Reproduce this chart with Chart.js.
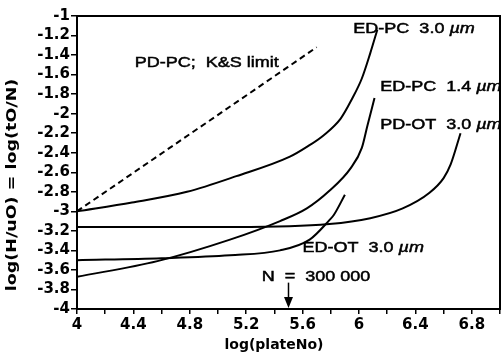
<!DOCTYPE html>
<html>
<head>
<meta charset="utf-8">
<script src="https://cdn.jsdelivr.net/npm/chart.js@4.4.1/dist/chart.umd.min.js"></script>
<style>
  body { margin: 0; background: #fff; }
  canvas { display: block; }
</style>
</head>
<body>
<canvas id="chart" width="502" height="355"></canvas>
<script>
// curves, x = log(plateNo), y = log(H/uO)
const pdpcX = [4, 4.85, 5.7];
const pdpcY = [-3.0, -2.16, -1.32];

const edpc30X = [4, 4.39, 4.78, 5.13, 5.51, 5.63, 5.75, 5.87, 5.95, 6.02, 6.08, 6.13];
const edpc30Y = [-3.0, -2.91, -2.80, -2.64, -2.44, -2.34, -2.22, -2.05, -1.85, -1.64, -1.38, -1.14];

const edpc14X = [4, 4.57, 5.085, 5.44, 5.63, 5.79, 5.94, 6.02, 6.06, 6.11];
const edpc14Y = [-3.67, -3.51, -3.29, -3.10, -2.97, -2.79, -2.56, -2.35, -2.12, -1.84];

const pdotX = [4, 5.13, 5.79, 6.08, 6.31, 6.50, 6.60, 6.65, 6.72];
const pdotY = [-3.16, -3.16, -3.13, -3.07, -2.97, -2.81, -2.66, -2.52, -2.20];

const edotX = [4, 4.6, 5.085, 5.44, 5.65, 5.79, 5.82, 5.90];
const edotY = [-3.50, -3.48, -3.45, -3.40, -3.29, -3.09, -3.04, -2.83];

const xTickLabels = ["4", "4.4", "4.8", "5.2", "5.6", "6", "6.4", "6.8"];
const yTickLabels = ["-4", "-3.8", "-3.6", "-3.4", "-3.2", "-3", "-2.8", "-2.6", "-2.4", "-2.2",
  "-2", "-1.8", "-1.6", "-1.4", "-1.2", "-1"];

const arrowAt = 5.5; // N = 300 000

function line(xs, ys, dash) {
  return {
    data: xs.map((x, i) => ({ x: x, y: ys[i] })),
    showLine: true,
    borderColor: "#000",
    borderWidth: 2,
    borderDash: dash || [],
    pointRadius: 0,
    cubicInterpolationMode: "monotone",
  };
}

// text beside the curves, placed in data units
const notes = [
  { text: "PD-PC;  K&S limit", unit: "", x: 4.41, y: -1.48 },
  { text: "ED-PC  3.0 ", unit: "µm", x: 5.96, y: -1.13 },
  { text: "ED-PC  1.4 ", unit: "µm", x: 6.15, y: -1.73 },
  { text: "PD-OT  3.0 ", unit: "µm", x: 6.15, y: -2.11 },
  { text: "ED-OT  3.0 ", unit: "µm", x: 5.60, y: -3.37 },
  { text: "N  =  300 000", unit: "", x: 5.31, y: -3.67 },
];

function wideText(ctx, s, px, py, sx) {
  ctx.save();
  ctx.translate(px, py);
  ctx.scale(sx, 1);
  ctx.strokeText(s, 0, 0);
  ctx.fillText(s, 0, 0);
  ctx.restore();
  return ctx.measureText(s).width * sx;
}

const extras = {
  id: "extras",
  afterDraw(chart) {
    const ctx = chart.ctx;
    const a = chart.chartArea;
    const x = chart.scales.x, y = chart.scales.y;
    ctx.save();
    ctx.strokeStyle = "#000";
    ctx.fillStyle = "#000";
    ctx.lineWidth = 2;
    ctx.strokeRect(a.left, a.top, a.right - a.left, a.bottom - a.top);

    ctx.textBaseline = "middle";
    ctx.textAlign = "left";
    ctx.lineWidth = 0.5;
    notes.forEach(n => {
      let px = x.getPixelForValue(n.x);
      const py = y.getPixelForValue(n.y);
      ctx.font = "15px 'Liberation Sans'";
      px += wideText(ctx, n.text, px, py, 1.2);
      if (n.unit) {
        ctx.font = "italic 15px 'Liberation Sans'";
        wideText(ctx, n.unit, px, py, 1.2);
      }
    });

    // arrow for N = 300 000
    const ax = x.getPixelForValue(arrowAt);
    const top = y.getPixelForValue(-3.73);
    ctx.lineWidth = 1.5;
    ctx.beginPath();
    ctx.moveTo(ax, top);
    ctx.lineTo(ax, a.bottom - 8);
    ctx.stroke();
    ctx.beginPath();
    ctx.moveTo(ax - 4.5, a.bottom - 12);
    ctx.lineTo(ax + 4.5, a.bottom - 12);
    ctx.lineTo(ax, a.bottom - 1);
    ctx.closePath();
    ctx.fill();

    // axis titles
    ctx.font = "bold 14px 'DejaVu Sans'";
    ctx.textAlign = "center";
    ctx.fillText("log(plateNo)", 274, 345);
    ctx.save();
    ctx.translate(12, 185);
    ctx.rotate(-Math.PI / 2);
    ctx.scale(1.25, 1);
    ctx.fillText("log(H/uO) = log(tO/N)", 0, 0);
    ctx.restore();
    ctx.restore();
  },
};

const tickFont = { family: "DejaVu Sans", size: 15, weight: "bold" };

new Chart(document.getElementById("chart").getContext("2d"), {
  type: "scatter",
  data: {
    datasets: [
      line(pdpcX, pdpcY, [6, 4]),
      line(edpc30X, edpc30Y),
      line(edpc14X, edpc14Y),
      line(pdotX, pdotY),
      line(edotX, edotY),
    ],
  },
  options: {
    responsive: false,
    animation: false,
    devicePixelRatio: 1,
    layout: { padding: { top: 16, right: 2, left: 0, bottom: 0 } },
    plugins: { legend: { display: false }, tooltip: { enabled: false } },
    scales: {
      x: {
        type: "linear",
        min: 4,
        max: 7,
        afterFit: s => { s.height = 46; },
        ticks: {
          stepSize: 0.2,
          autoSkip: false,
          maxRotation: 0,
          padding: 2,
          color: "#000",
          font: tickFont,
          callback: (v, i) => (i % 2 === 0 && xTickLabels[i / 2]) || "",
        },
        grid: { drawOnChartArea: false, tickLength: 5, color: "#000", lineWidth: 1.5 },
        border: { color: "#000", width: 2 },
      },
      y: {
        type: "linear",
        min: -4,
        max: -1,
        afterFit: s => { s.width = 77; },
        ticks: {
          stepSize: 0.2,
          autoSkip: false,
          padding: 1,
          color: "#000",
          font: tickFont,
          callback: (v, i) => yTickLabels[i],
        },
        grid: { drawOnChartArea: false, tickLength: 6, color: "#000", lineWidth: 1.5 },
        border: { color: "#000", width: 2 },
      },
    },
  },
  plugins: [extras],
});
</script>
</body>
</html>
